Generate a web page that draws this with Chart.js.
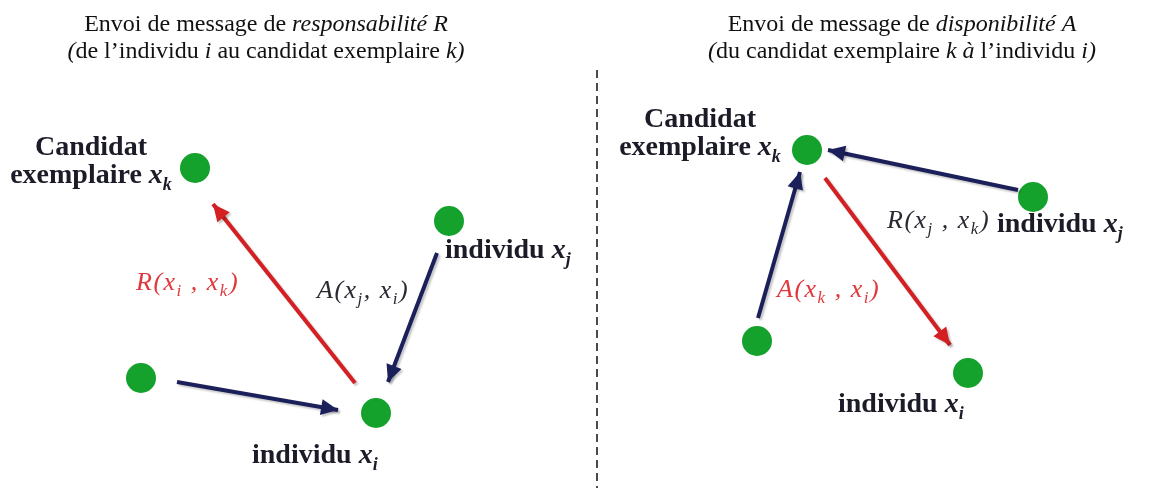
<!DOCTYPE html>
<html>
<head>
<meta charset="utf-8">
<script src="https://cdn.jsdelivr.net/npm/chart.js@4/dist/chart.umd.min.js"></script>
<style>
  html, body { margin: 0; padding: 0; background: #fff; }
  #wrap { width: 1154px; height: 488px; }
</style>
</head>
<body>
<div id="wrap"><canvas id="diagram" width="1154" height="488"></canvas></div>
<script>
// Noeuds (individus / candidats), coordonnées dans le repère du schéma
const nodeX = [195, 449, 376, 141, 807, 757, 1033, 968];
const nodeY = [168, 221, 413, 378, 150, 341, 197, 373];

// Flèches (départ -> arrivée) et type de message
const arrowFromX = [355, 177, 437, 758, 1018, 825];
const arrowFromY = [383, 382, 253, 318, 190, 178];
const arrowToX   = [213, 338, 388, 800, 828, 950];
const arrowToY   = [204, 410, 382, 172, 150, 345];
const arrowKind  = ['rouge', 'bleu', 'bleu', 'bleu', 'bleu', 'rouge'];

// Séparateur vertical
const dividerX = [597, 597];
const dividerY = [70, 488];

// Titres : segments [texte, style]  (style : i = italique)
const titleX = [266, 902];
const titleY = [31, 58];
const titleLines = [
  [
    [['Envoi de message de ', ''], ['responsabilité R', 'i']],
    [['(', 'i'], ['de l\u2019individu ', ''], ['i', 'i'], [' au candidat exemplaire ', ''], ['k)', 'i']]
  ],
  [
    [['Envoi de message de ', ''], ['disponibilité A', 'i']],
    [['(', 'i'], ['du candidat exemplaire ', ''], ['k à', 'i'], [' l\u2019individu ', ''], ['i)', 'i']]
  ]
];

// Étiquettes des noeuds (gras) : x, ligne de base, alignement, lignes
const nodeLabelX = [91, 445, 252, 700, 997, 838];
const nodeLabelY = [155, 258, 463, 127, 232, 412];
const nodeLabelAlign = ['center', 'left', 'left', 'center', 'left', 'left'];
const nodeLabelLines = [
  [[['Candidat', 'b']], [['exemplaire ', 'b'], ['x', 'bi'], ['k', 'bis']]],
  [[['individu ', 'b'], ['x', 'bi'], ['j', 'bis']]],
  [[['individu ', 'b'], ['x', 'bi'], ['i', 'bis']]],
  [[['Candidat', 'b']], [['exemplaire ', 'b'], ['x', 'bi'], ['k', 'bis']]],
  [[['individu ', 'b'], ['x', 'bi'], ['j', 'bis']]],
  [[['individu ', 'b'], ['x', 'bi'], ['i', 'bis']]]
];

// Étiquettes des messages (italique)
const msgLabelX = [136, 317, 887, 777];
const msgLabelY = [290, 298, 228, 297];
const msgLabelKind = ['rouge', 'bleu', 'bleu', 'rouge'];
const msgLabelParts = [
  [['R(x', 'i'], ['i', 'is'], [' , x', 'i'], ['k', 'is'], [')', 'i']],
  [['A(x', 'i'], ['j', 'is'], [', x', 'i'], ['i', 'is'], [')', 'i']],
  [['R(x', 'i'], ['j', 'is'], [' , x', 'i'], ['k', 'is'], [')', 'i']],
  [['A(x', 'i'], ['k', 'is'], [' , x', 'i'], ['i', 'is'], [')', 'i']]
];

const COLORS = { rouge: '#d42022', bleu: '#1b1f5a', vert: '#14a12c' };
const MSG_TEXT = { rouge: '#e0383c', bleu: '#2a2a33' };
const SERIF = '"Liberation Serif", "Times New Roman", serif';

function fontFor(style, size) {
  const sub = style.includes('s');
  const s = sub ? Math.round(size * 0.66) : size;
  return (style.includes('i') ? 'italic ' : '') + (style.includes('b') ? 'bold ' : '') + s + 'px ' + SERIF;
}

// Texte riche : segments avec styles et indices
function drawRich(ctx, parts, x, y, align, size, color, spacing) {
  ctx.letterSpacing = (spacing || 0) + 'px';
  let total = 0;
  const widths = parts.map(([t, st]) => {
    ctx.font = fontFor(st, size);
    const w = ctx.measureText(t).width;
    total += w;
    return w;
  });
  let cx = align === 'center' ? x - total / 2 : x;
  ctx.fillStyle = color;
  ctx.textBaseline = 'alphabetic';
  ctx.textAlign = 'left';
  parts.forEach(([t, st], k) => {
    ctx.font = fontFor(st, size);
    const dy = st.includes('s') ? size * 0.24 : 0;
    ctx.fillText(t, cx, y + dy);
    cx += widths[k];
  });
  ctx.letterSpacing = '0px';
}

function setShadow(ctx) {
  ctx.shadowColor = 'rgba(0,0,0,0.22)';
  ctx.shadowBlur = 2;
  ctx.shadowOffsetX = 2;
  ctx.shadowOffsetY = 2;
}

const annotations = {
  id: 'annotations',
  // ombre légère sous les flèches
  beforeDatasetDraw(chart, args) {
    if (!chart.data.datasets[args.index].isArrow) return;
    chart.ctx.save();
    setShadow(chart.ctx);
  },
  afterDatasetDraw(chart, args) {
    if (!chart.data.datasets[args.index].isArrow) return;
    chart.ctx.restore();
  },
  afterDatasetsDraw(chart) {
    const ctx = chart.ctx;
    const sx = chart.scales.x, sy = chart.scales.y;

    // pointes de flèches
    chart.data.datasets.forEach((ds, di) => {
      if (!ds.isArrow) return;
      const pts = chart.getDatasetMeta(di).data;
      const a = pts[0], b = pts[1];
      const ang = Math.atan2(b.y - a.y, b.x - a.x);
      const len = 17, half = 8;
      ctx.save();
      setShadow(ctx);
      ctx.fillStyle = ds.borderColor;
      ctx.beginPath();
      ctx.moveTo(b.x, b.y);
      ctx.lineTo(b.x - len * Math.cos(ang) + half * Math.sin(ang), b.y - len * Math.sin(ang) - half * Math.cos(ang));
      ctx.lineTo(b.x - len * Math.cos(ang) - half * Math.sin(ang), b.y - len * Math.sin(ang) + half * Math.cos(ang));
      ctx.closePath();
      ctx.fill();
      ctx.restore();
    });

    ctx.save();
    // titres
    titleLines.forEach((lines, k) => {
      lines.forEach((parts, li) => {
        drawRich(ctx, parts, sx.getPixelForValue(titleX[k]), sy.getPixelForValue(titleY[li]), 'center', 24, '#111');
      });
    });
    // étiquettes des noeuds
    nodeLabelLines.forEach((lines, k) => {
      lines.forEach((parts, li) => {
        drawRich(ctx, parts, sx.getPixelForValue(nodeLabelX[k]), sy.getPixelForValue(nodeLabelY[k] + li * 28),
          nodeLabelAlign[k], 28, '#1c1c28', 0);
      });
    });
    // étiquettes des messages
    msgLabelParts.forEach((parts, k) => {
      drawRich(ctx, parts, sx.getPixelForValue(msgLabelX[k]), sy.getPixelForValue(msgLabelY[k]),
        'left', 26, MSG_TEXT[msgLabelKind[k]], 1.5);
    });
    ctx.restore();
  }
};

const datasets = [];

datasets.push({
  type: 'line',
  data: dividerX.map((x, i) => ({ x, y: dividerY[i] })),
  borderColor: '#4a4a4a',
  borderWidth: 2,
  borderDash: [8, 5],
  pointRadius: 0,
  clip: false
});

arrowKind.forEach((kind, i) => {
  datasets.push({
    type: 'line',
    isArrow: true,
    data: [{ x: arrowFromX[i], y: arrowFromY[i] }, { x: arrowToX[i], y: arrowToY[i] }],
    borderColor: COLORS[kind],
    borderWidth: 4,
    borderCapStyle: 'butt',
    pointRadius: 0,
    clip: false
  });
});

datasets.push({
  type: 'scatter',
  data: nodeX.map((x, i) => ({ x, y: nodeY[i] })),
  backgroundColor: COLORS.vert,
  borderWidth: 0,
  pointRadius: 15,
  clip: false
});

new Chart(document.getElementById('diagram').getContext('2d'), {
  type: 'scatter',
  data: { datasets },
  options: {
    responsive: false,
    animation: false,
    events: [],
    layout: { padding: 0, autoPadding: false },
    plugins: { legend: { display: false }, tooltip: { enabled: false } },
    scales: {
      x: { type: 'linear', min: 0, max: 1154, display: false },
      y: { type: 'linear', min: 0, max: 488, reverse: true, display: false }
    }
  },
  plugins: [annotations]
});
</script>
</body>
</html>
